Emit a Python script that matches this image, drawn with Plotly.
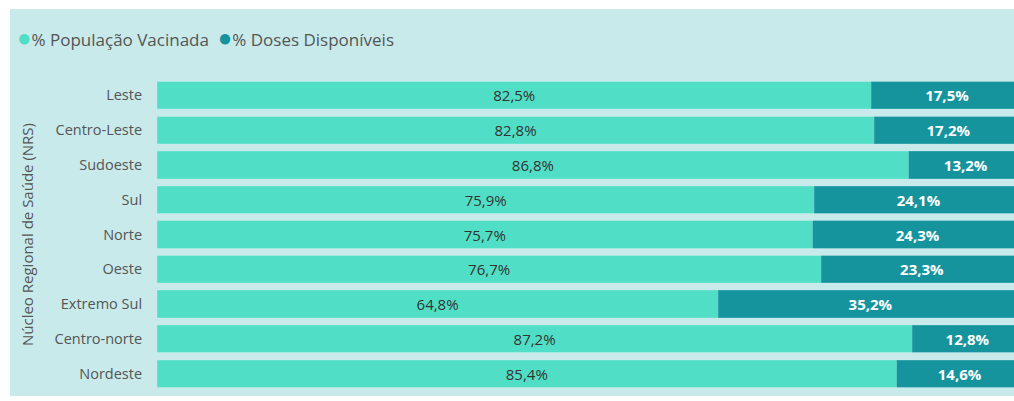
import plotly.graph_objects as go

categories = ["Leste", "Centro-Leste", "Sudoeste", "Sul", "Norte", "Oeste",
              "Extremo Sul", "Centro-norte", "Nordeste"]
vacinada = [82.5, 82.8, 86.8, 75.9, 75.7, 76.7, 64.8, 87.2, 85.4]
doses = [17.5, 17.2, 13.2, 24.1, 24.3, 23.3, 35.2, 12.8, 14.6]

name_vac = "% População Vacinada"
name_dos = "% Doses Disponíveis"
color_vac = "#50DFC6"
color_dos = "#15949E"
bg = "#C8EAEB"

def fmt(v):
    return f"{v:.1f}".replace(".", ",") + "%"

# the plot area extends slightly beyond the 1014px window (clipped), as in the reference
W, H = 1023, 401
L, R, T, B = 157, 0, 78, 10
pw, ph = W - L - R, H - T - B

def px(x):
    return (x - L) / pw

def py(y):
    return (H - B - y) / ph

fig = go.Figure()
fig.add_trace(go.Bar(
    y=categories, x=vacinada, orientation="h", name=name_vac,
    marker=dict(color=color_vac, line=dict(color="#7BE8D5", width=0.5)),
    text=[fmt(v) for v in vacinada], textposition="inside", insidetextanchor="middle",
    textfont=dict(color="#333333", size=15, family="Open Sans"),
    showlegend=False,
))
fig.add_trace(go.Bar(
    y=categories, x=doses, orientation="h", name=name_dos,
    marker=dict(color=color_dos, line=dict(color="#4FB0B8", width=0.5)),
    text=[f"<b>{fmt(v)}</b>" for v in doses], textposition="inside", insidetextanchor="middle",
    textfont=dict(color="white", size=15, family="Open Sans"),
    showlegend=False,
))

# legend drawn as text with coloured circles
legend_text = (f"<span style='color:{color_vac};font-size:24px'>●</span>{name_vac}\u00a0\u00a0"
               f"<span style='color:{color_dos};font-size:24px'>●</span>{name_dos}")
fig.add_annotation(xref="paper", yref="paper", x=px(15), y=py(37),
                   xanchor="left", yanchor="middle", showarrow=False,
                   text=legend_text, font=dict(size=17, color="#555555", family="Open Sans"))

fig.add_shape(type="rect", xref="paper", yref="paper",
              x0=px(10), x1=px(W + 30), y0=py(396), y1=py(9),
              fillcolor=bg, line=dict(width=0), layer="below")

fig.update_layout(
    width=W, height=H,
    margin=dict(l=L, r=R, t=T, b=B),
    paper_bgcolor="white", plot_bgcolor=bg,
    barmode="stack", bargap=0.22, showlegend=False,
    font=dict(family="Open Sans", color="#555555"),
    xaxis=dict(range=[0, 100], visible=False, fixedrange=True),
    yaxis=dict(autorange="reversed", showgrid=False, zeroline=False,
               tickfont=dict(size=14.5, color="#555555"),
               ticks="outside", ticklen=11, tickcolor="rgba(0,0,0,0)",
               title=dict(text="Núcleo Regional de Saúde (NRS)",
                          font=dict(size=15, color="#555555"), standoff=17)),
    uniformtext=dict(minsize=8, mode="show"),
)

fig.write_html("out.html", config={"displayModeBar": False},
               post_script=("document.body.style.margin='0';"
                            "document.body.style.overflow='hidden';"
                            "document.documentElement.style.overflow='hidden';"))
